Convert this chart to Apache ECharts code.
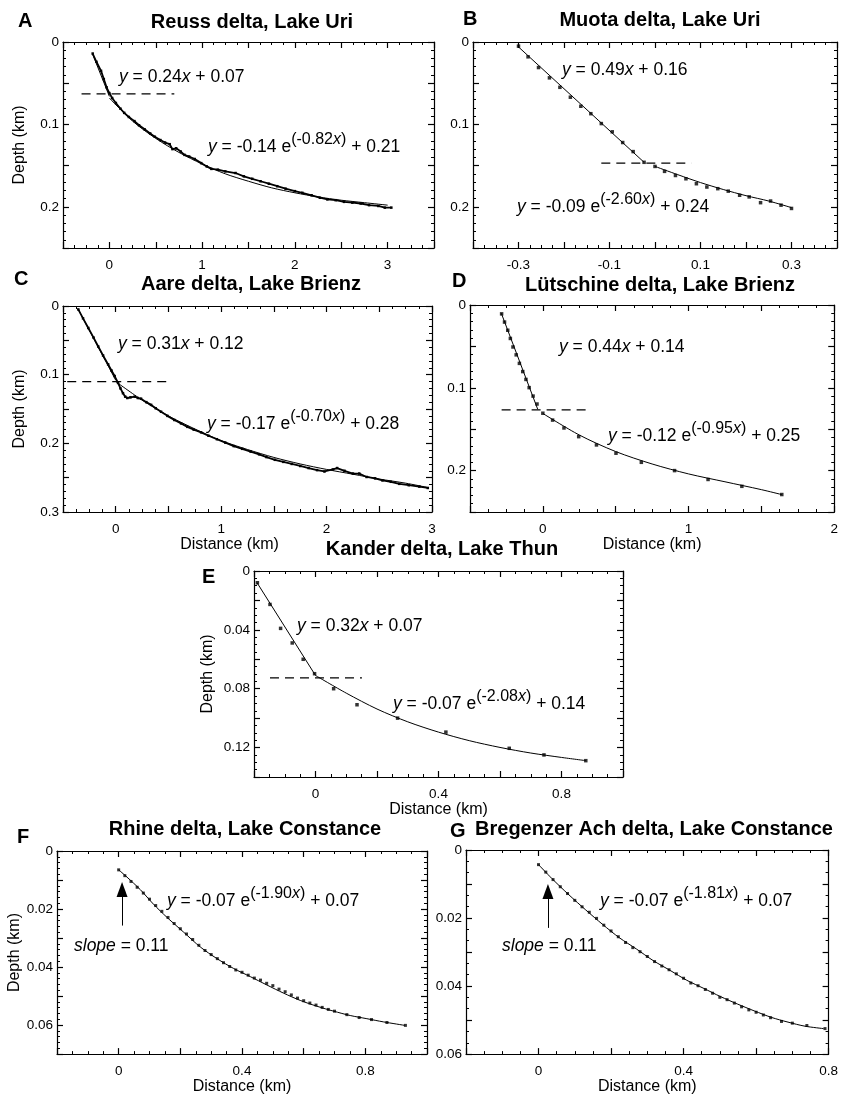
<!DOCTYPE html>
<html>
<head>
<meta charset="utf-8">
<script src="https://cdn.jsdelivr.net/npm/echarts@6/dist/echarts.min.js"></script>
<style>
html, body { margin: 0; padding: 0; background: #fff; }
#chart { width: 841px; height: 1096px; }
</style>
</head>
<body>
<div id="chart"></div>
<script>
var FONT = '"Liberation Sans", Arial, Helvetica, sans-serif';

// ---- values: [distance km, depth km] ----
var reussPts = [[-0.18,0.014],[-0.14,0.024],[-0.09,0.035],[-0.06,0.045],[-0.03,0.055],[0.0,0.062],[0.03,0.068],[0.07,0.074],[0.12,0.081],[0.16,0.086],[0.21,0.091],[0.27,0.096],[0.32,0.101],[0.38,0.106],[0.44,0.111],[0.49,0.115],[0.55,0.119],[0.6,0.122],[0.65,0.124],[0.68,0.130],[0.72,0.129],[0.77,0.133],[0.81,0.137],[0.86,0.139],[0.92,0.142],[0.99,0.147],[1.05,0.151],[1.1,0.154],[1.17,0.155],[1.25,0.157],[1.36,0.159],[1.45,0.163],[1.54,0.166],[1.63,0.169],[1.72,0.172],[1.81,0.175],[1.9,0.178],[2.0,0.181],[2.08,0.183],[2.18,0.186],[2.27,0.189],[2.35,0.191],[2.44,0.192],[2.53,0.194],[2.62,0.195],[2.71,0.196],[2.8,0.198],[2.9,0.199],[2.97,0.201],[3.04,0.201]];
var reussLin = [[-0.18,0.015],[0.0,0.066]];
var reussExp = [[0,0.068],[0.25,0.096],[0.5,0.117],[0.75,0.134],[1.0,0.148],[1.25,0.160],[1.5,0.169],[1.75,0.177],[2.0,0.183],[2.25,0.188],[2.5,0.192],[2.75,0.195],[3.0,0.198]];
var reussCut = [[-0.3,0.063],[0.7,0.063]];

var muotaPts = [[-0.3,0.005],[-0.279,0.018],[-0.256,0.031],[-0.232,0.0435],[-0.209,0.055],[-0.186,0.067],[-0.163,0.078],[-0.141,0.087],[-0.118,0.099],[-0.094,0.109],[-0.071,0.122],[-0.048,0.133],[-0.024,0.146],[0.0,0.151],[0.021,0.157],[0.045,0.162],[0.068,0.166],[0.091,0.172],[0.114,0.176],[0.138,0.178],[0.161,0.181],[0.186,0.186],[0.207,0.188],[0.232,0.195],[0.254,0.193],[0.277,0.198],[0.3,0.202]];
var muotaLin = [[-0.3,0.006],[-0.024,0.146]];
var muotaExp = [[0,0.151],[0.05,0.161],[0.1,0.1706],[0.15,0.179],[0.2,0.1865],[0.25,0.193],[0.3,0.201]];
var muotaCut = [[-0.118,0.147],[0.08,0.147]];

var aarePts = [[-0.355,0.005],[-0.31,0.018],[-0.26,0.032],[-0.21,0.046],[-0.166,0.059],[-0.12,0.072],[-0.072,0.085],[-0.04,0.094],[-0.01,0.102],[0.022,0.112],[0.045,0.12],[0.069,0.127],[0.09,0.132],[0.11,0.134],[0.14,0.133],[0.18,0.132],[0.21,0.134],[0.24,0.135],[0.29,0.14],[0.336,0.144],[0.38,0.149],[0.43,0.154],[0.49,0.16],[0.556,0.166],[0.62,0.171],[0.68,0.176],[0.74,0.18],[0.81,0.184],[0.88,0.189],[0.96,0.194],[1.04,0.199],[1.12,0.204],[1.2,0.208],[1.28,0.212],[1.36,0.216],[1.43,0.22],[1.51,0.224],[1.59,0.227],[1.67,0.23],[1.75,0.233],[1.83,0.236],[1.91,0.239],[1.98,0.241],[2.06,0.238],[2.1,0.236],[2.17,0.24],[2.25,0.244],[2.31,0.244],[2.38,0.249],[2.46,0.251],[2.53,0.254],[2.61,0.256],[2.69,0.259],[2.78,0.261],[2.88,0.263],[2.96,0.265]];
var aareLin = [[-0.355,0.005],[0.0,0.108]];
var aareExp = [[0,0.11],[0.25,0.137],[0.5,0.16],[0.75,0.179],[1.0,0.196],[1.25,0.209],[1.5,0.2205],[1.75,0.23],[2.0,0.238],[2.25,0.245],[2.5,0.252],[2.75,0.258],[2.95,0.264]];
var aareCut = [[-0.46,0.11],[0.48,0.11]];

var lutschinePts = [[-0.283,0.0107],[-0.263,0.0206],[-0.241,0.0305],[-0.223,0.0404],[-0.205,0.0507],[-0.183,0.0602],[-0.161,0.0705],[-0.138,0.0804],[-0.116,0.0899],[-0.094,0.0998],[-0.067,0.110],[-0.040,0.1196],[0,0.1307],[0.067,0.139],[0.145,0.1485],[0.246,0.159],[0.368,0.169],[0.502,0.179],[0.676,0.190],[0.904,0.200],[1.134,0.2107],[1.366,0.219],[1.64,0.2289]];
var lutschineLin = [[-0.285,0.010],[-0.035,0.126]];
var lutschineExp = [[0,0.131],[0.25,0.157],[0.5,0.177],[0.75,0.192],[1.0,0.204],[1.25,0.2135],[1.5,0.223],[1.64,0.229]];
var lutschineCut = [[-0.283,0.1267],[0.33,0.1267]];

var kanderPts = [[-0.189,0.008],[-0.148,0.0227],[-0.1135,0.039],[-0.0757,0.0489],[-0.04,0.060],[-0.003,0.0698],[0.059,0.080],[0.135,0.0909],[0.267,0.100],[0.424,0.1095],[0.630,0.1205],[0.743,0.125],[0.879,0.1289]];
var kanderLin = [[-0.19,0.008],[0.0,0.071]];
var kanderExp = [[0,0.071],[0.1,0.083],[0.2,0.0938],[0.3,0.1025],[0.4,0.1095],[0.5,0.1153],[0.6,0.1199],[0.7,0.1237],[0.8,0.1267],[0.88,0.1289]];
var kanderCut = [[-0.148,0.0727],[0.151,0.0727]];

var rhinePts = [[0.0,0.0065],[0.02,0.0085],[0.04,0.0105],[0.06,0.0125],[0.08,0.0145],[0.1,0.0166],[0.12,0.0188],[0.14,0.0208],[0.16,0.0229],[0.18,0.025],[0.2,0.0268],[0.22,0.0286],[0.24,0.0305],[0.26,0.0325],[0.28,0.0343],[0.3,0.0357],[0.32,0.0371],[0.34,0.0385],[0.36,0.0398],[0.38,0.041],[0.40,0.0418],[0.42,0.0428],[0.44,0.0438],[0.46,0.0445],[0.48,0.0456],[0.5,0.0464],[0.52,0.0476],[0.54,0.0485],[0.56,0.0496],[0.58,0.0507],[0.6,0.0516],[0.62,0.0524],[0.64,0.0531],[0.66,0.0539],[0.68,0.0546],[0.70,0.0552],[0.74,0.0564],[0.78,0.0574],[0.82,0.0581],[0.87,0.0591],[0.93,0.0601]];
var rhineFit = [[0,0.0065],[0.027,0.009],[0.07,0.0133],[0.1135,0.0184],[0.157,0.0229],[0.211,0.028],[0.265,0.0331],[0.319,0.0371],[0.373,0.0405],[0.427,0.0433],[0.481,0.0462],[0.535,0.049],[0.589,0.0515],[0.643,0.0535],[0.697,0.0552],[0.751,0.0567],[0.805,0.0578],[0.859,0.0589],[0.928,0.0601]];
var rhineArrow = [[0.011,0.0257],[0.011,0.0133]];

var bregenzPts = [[0,0.0043],[0.02,0.0065],[0.04,0.0087],[0.06,0.0108],[0.08,0.0128],[0.1,0.0148],[0.12,0.0167],[0.14,0.0183],[0.16,0.0201],[0.18,0.0221],[0.2,0.0238],[0.22,0.0255],[0.24,0.0272],[0.26,0.0287],[0.28,0.0299],[0.30,0.0313],[0.32,0.0328],[0.34,0.0341],[0.36,0.0352],[0.38,0.0364],[0.4,0.0377],[0.42,0.0391],[0.44,0.0399],[0.46,0.041],[0.48,0.0421],[0.5,0.0433],[0.52,0.044],[0.54,0.045],[0.56,0.0461],[0.58,0.047],[0.6,0.0477],[0.62,0.0485],[0.64,0.0493],[0.67,0.0504],[0.70,0.0509],[0.74,0.0516],[0.79,0.0525]];
var bregenzFit = [[0,0.0043],[0.037,0.0084],[0.084,0.0132],[0.13,0.0176],[0.177,0.0219],[0.223,0.0258],[0.27,0.0291],[0.316,0.0325],[0.363,0.0354],[0.409,0.0383],[0.456,0.0407],[0.502,0.0431],[0.549,0.0453],[0.595,0.0473],[0.642,0.0492],[0.688,0.0506],[0.735,0.0518],[0.786,0.0525]];
var bregenzArrow = [[0.026,0.0229],[0.026,0.0122]];

// tick labels
var ticksIntX = ['0','1','2','3'];
var ticksMuotaX = ['-0.3','-0.1','0.1','0.3'];
var ticksDepth = ['0','0.1','0.2','0.3'];
var ticksShortX = ['0','0.4','0.8'];
var ticksKanderY = ['0','0.04','0.08','0.12'];
var ticksConstY = ['0','0.02','0.04','0.06'];

var titles = ['Reuss delta, Lake Uri','Muota delta, Lake Uri','Aare delta, Lake Brienz','Lütschine delta, Lake Brienz','Kander delta, Lake Thun','Rhine delta, Lake Constance','Bregenzer Ach delta, Lake Constance'];
var letters = ['A','B','C','D','E','F','G'];

var option = {
    animation: false,
    backgroundColor: '#fff',
    textStyle: { fontFamily: FONT, color: '#000' },
    grid: [], xAxis: [], yAxis: [], series: [], graphic: []
};

function tickFmt(labels) {
    return function (v) {
        var s = String(parseFloat(v.toFixed(4)));
        return labels.indexOf(s) >= 0 ? s : '';
    };
}

function makeAxis(dim, k, pos, r, labels, name, gap, pad) {
    var ax = {
        type: 'value', gridIndex: k, position: pos,
        min: r[0], max: r[1], interval: r[2],
        inverse: dim === 'y',
        axisLine: { show: true, onZero: false, lineStyle: { color: '#000', width: 1.2 } },
        axisTick: { show: true, inside: true, length: 6, lineStyle: { color: '#000', width: 1.2 } },
        minorTick: { show: true, splitNumber: r[3], length: 3, lineStyle: { color: '#000', width: 1 } },
        splitLine: { show: false },
        minorSplitLine: { show: false },
        axisLabel: { show: false }
    };
    if (labels) {
        ax.axisLabel = {
            show: true, formatter: tickFmt(labels), color: '#000', fontSize: 13.5,
            fontFamily: FONT, margin: dim === 'x' ? 10 : 4,
            showMinLabel: true, showMaxLabel: true
        };
    }
    if (name) {
        ax.name = name;
        ax.nameLocation = 'middle';
        ax.nameGap = gap;
        ax.nameTextStyle = { color: '#000', fontSize: 16, fontFamily: FONT, padding: pad || 0 };
    }
    return ax;
}

function fitLine(k, data, smooth) {
    return { type: 'line', xAxisIndex: 2 * k, yAxisIndex: 2 * k, data: data, symbol: 'none',
        smooth: smooth ? 0.3 : false, lineStyle: { color: '#000', width: 1 }, silent: true, z: 3 };
}

function cutLine(k, data) {
    return { type: 'line', xAxisIndex: 2 * k, yAxisIndex: 2 * k, data: data, symbol: 'none',
        lineStyle: { color: '#000', width: 1.3, type: [9, 6] }, silent: true, z: 2 };
}

function points(k, data, joined, size) {
    var s = { type: joined ? 'line' : 'scatter', xAxisIndex: 2 * k, yAxisIndex: 2 * k, data: data,
        symbol: 'rect', symbolSize: size, itemStyle: { color: '#000' }, silent: true, z: 4 };
    if (joined) { s.showSymbol = true; s.lineStyle = { color: '#000', width: 1.8 }; }
    return s;
}

function arrow(k, data) {
    return { type: 'line', xAxisIndex: 2 * k, yAxisIndex: 2 * k, data: [], silent: true,
        markLine: { silent: true, symbol: ['none', 'triangle'], symbolSize: [11, 15],
            label: { show: false }, lineStyle: { color: '#000', width: 1, type: 'solid' },
            data: [[{ coord: data[0] }, { coord: data[1] }]] } };
}

function addPanel(p) {
    var k = option.grid.length;
    option.grid.push({ left: p.box[0], top: p.box[1], width: p.box[2], height: p.box[3] });
    option.xAxis.push(makeAxis('x', k, 'bottom', p.xr, p.xl, p.xName, p.xGap, p.xPad));
    option.xAxis.push(makeAxis('x', k, 'top', p.xr));
    option.yAxis.push(makeAxis('y', k, 'left', p.yr, p.yl, p.yName, p.yGap));
    option.yAxis.push(makeAxis('y', k, 'right', p.yr));
    p.series(k).forEach(function (s) { option.series.push(s); });
}

addPanel({ box: [63, 42, 371, 206], xr: [-0.5, 3.5, 0.5, 4], xl: ticksIntX, yr: [0, 0.25, 0.05, 5], yl: ticksDepth,
    yName: 'Depth (km)', yGap: 35,
    series: function (k) { return [cutLine(k, reussCut), fitLine(k, reussLin), fitLine(k, reussExp, true), points(k, reussPts, true, 2.5)]; } });
addPanel({ box: [473, 42, 364, 206], xr: [-0.4, 0.4, 0.1, 4], xl: ticksMuotaX, yr: [0, 0.25, 0.05, 5], yl: ticksDepth,
    series: function (k) { return [cutLine(k, muotaCut), fitLine(k, muotaLin), fitLine(k, muotaExp, true), points(k, muotaPts, false, 3.5)]; } });
addPanel({ box: [63, 306, 369, 206], xr: [-0.5, 3, 0.5, 4], xl: ticksIntX, yr: [0, 0.3, 0.05, 5], yl: ticksDepth,
    yName: 'Depth (km)', yGap: 35, xName: 'Distance (km)', xGap: 24, xPad: [0, 36, 0, 0],
    series: function (k) { return [cutLine(k, aareCut), fitLine(k, aareLin), fitLine(k, aareExp, true), points(k, aarePts, true, 2.5)]; } });
addPanel({ box: [470, 305, 368, 207], xr: [-0.5, 2, 0.5, 4], xl: ticksIntX, yr: [0, 0.25, 0.05, 5], yl: ticksDepth,
    xName: 'Distance (km)', xGap: 25,
    series: function (k) { return [cutLine(k, lutschineCut), fitLine(k, lutschineLin), fitLine(k, lutschineExp, true), points(k, lutschinePts, false, 3.5)]; } });
addPanel({ box: [254, 571, 369, 206], xr: [-0.2, 1.0, 0.2, 4], xl: ticksShortX, yr: [0, 0.14, 0.02, 4], yl: ticksKanderY,
    yName: 'Depth (km)', yGap: 38, xName: 'Distance (km)', xGap: 23,
    series: function (k) { return [cutLine(k, kanderCut), fitLine(k, kanderLin), fitLine(k, kanderExp, true), points(k, kanderPts, false, 3.5)]; } });
addPanel({ box: [57, 851, 370, 206], xr: [-0.2, 1.0, 0.2, 4], xl: ticksShortX, yr: [0, 0.07, 0.01, 5], yl: ticksConstY,
    yName: 'Depth (km)', yGap: 32, xName: 'Distance (km)', xGap: 22,
    series: function (k) { return [fitLine(k, rhineFit, true), points(k, rhinePts, false, 3), arrow(k, rhineArrow)]; } });
addPanel({ box: [466, 850, 371, 207], xr: [-0.2, 0.8, 0.2, 4], xl: ticksShortX, yr: [0, 0.06, 0.01, 3], yl: ticksConstY,
    xName: 'Distance (km)', xGap: 22,
    series: function (k) { return [fitLine(k, bregenzFit, true), points(k, bregenzPts, false, 3), arrow(k, bregenzArrow)]; } });

// titles, panel letters, fitted equations
var titlePos = [[252, 22], [660, 20], [251, 284], [660, 285], [442, 549], [245, 829], [654, 829]];
var letterPos = [[18, 21], [463, 19], [14, 279], [452, 281], [202, 577], [17, 837], [450, 831]];

function txt(x, y, text, font, align) {
    return { type: 'text', x: x, y: y, silent: true,
        style: { text: text, font: font, fill: '#000', textAlign: align, align: align,
            textVerticalAlign: 'middle', verticalAlign: 'middle' } };
}

titles.forEach(function (t, i) {
    option.graphic.push(txt(titlePos[i][0], titlePos[i][1], t, 'bold 20px ' + FONT, 'center'));
    option.graphic.push(txt(letterPos[i][0], letterPos[i][1], letters[i], 'bold 20px ' + FONT, 'left'));
});

var RICH = {
    i: { fontStyle: 'italic', fontSize: 17.5, fontFamily: FONT, lineHeight: 30, fill: '#000' },
    s: { fontSize: 16, fontFamily: FONT, lineHeight: 16, verticalAlign: 'top', fill: '#000' },
    si: { fontStyle: 'italic', fontSize: 16, fontFamily: FONT, lineHeight: 16, verticalAlign: 'top', fill: '#000' }
};

function eq(x, y, text) {
    return { type: 'text', x: x, y: y, silent: true,
        style: { text: text, rich: RICH, font: '17.5px ' + FONT, fontSize: 17.5, fontFamily: FONT,
            fill: '#000', lineHeight: 30, textAlign: 'left', align: 'left',
            textVerticalAlign: 'middle', verticalAlign: 'middle' } };
}

[
    [119, 77, '{i|y} = 0.24{i|x} + 0.07'],
    [208, 147, '{i|y} = -0.14 e{s|(-0.82}{si|x}{s|)} + 0.21'],
    [562, 70, '{i|y} = 0.49{i|x} + 0.16'],
    [517, 207, '{i|y} = -0.09 e{s|(-2.60}{si|x}{s|)} + 0.24'],
    [118, 344, '{i|y} = 0.31{i|x} + 0.12'],
    [207, 424, '{i|y} = -0.17 e{s|(-0.70}{si|x}{s|)} + 0.28'],
    [559, 347, '{i|y} = 0.44{i|x} + 0.14'],
    [608, 436, '{i|y} = -0.12 e{s|(-0.95}{si|x}{s|)} + 0.25'],
    [297, 626, '{i|y} = 0.32{i|x} + 0.07'],
    [393, 704, '{i|y} = -0.07 e{s|(-2.08}{si|x}{s|)} + 0.14'],
    [167, 901, '{i|y} = -0.07 e{s|(-1.90}{si|x}{s|)} + 0.07'],
    [600, 901, '{i|y} = -0.07 e{s|(-1.81}{si|x}{s|)} + 0.07'],
    [74, 946, '{i|slope} = 0.11'],
    [502, 946, '{i|slope} = 0.11']
].forEach(function (e) { option.graphic.push(eq(e[0], e[1], e[2])); });

var myChart = echarts.init(document.getElementById('chart'), null, { renderer: 'canvas' });
myChart.setOption(option);
</script>
</body>
</html>
